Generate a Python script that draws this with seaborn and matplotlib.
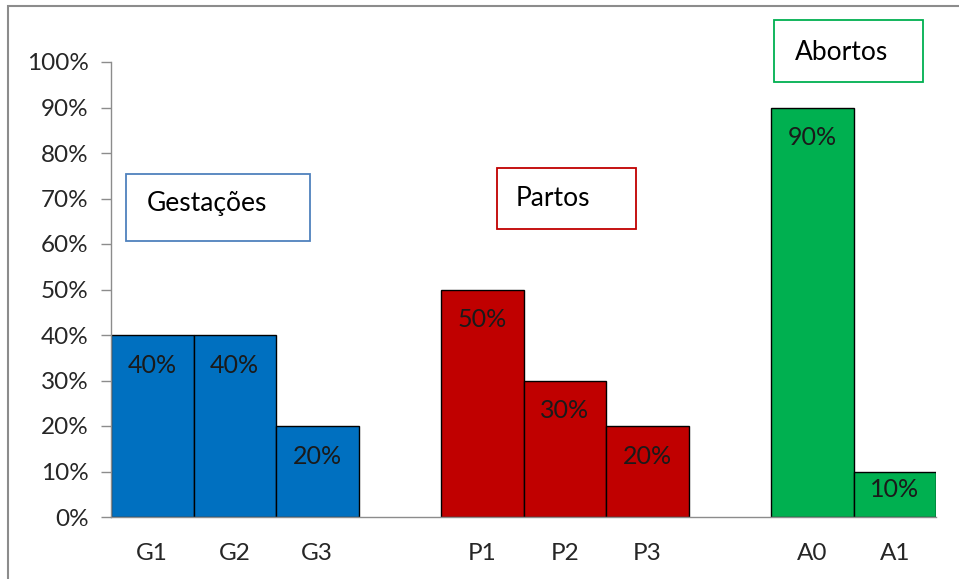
import pandas as pd
import matplotlib.pyplot as plt
import seaborn as sns
from matplotlib.patches import Rectangle

# =========================================
# DATA
# =========================================

categories = ['G1', 'G2', 'G3', 'P1', 'P2', 'P3', 'A0', 'A1']
groups = ['Gestações', 'Gestações', 'Gestações',
          'Partos', 'Partos', 'Partos',
          'Abortos', 'Abortos']
values = [0.40, 0.40, 0.20, 0.50, 0.30, 0.20, 0.90, 0.10]

# empty slots between the groups
order = ['G1', 'G2', 'G3', ' ', 'P1', 'P2', 'P3', '  ', 'A0', 'A1']

group_colors = {
    'Gestações': '#0070C0',
    'Partos': '#C00000',
    'Abortos': '#00B050'
}

box_edges = {
    'Gestações': '#4F81BD',
    'Partos': '#C00000',
    'Abortos': '#00B050'
}

data = pd.DataFrame({
    'categoria': categories,
    'grupo': groups,
    'valor': values
})

# =========================================
# PLOT
# =========================================

sns.set_style('white')
plt.rcParams['font.family'] = ['Lato', 'DejaVu Sans']

W, H = 959, 579
fig = plt.figure(figsize=(W / 100, H / 100), dpi=100)

ax_left, ax_right, ax_top, ax_bottom = 111, 936, 62, 517
ax = fig.add_axes([
    ax_left / W,
    1 - ax_bottom / H,
    (ax_right - ax_left) / W,
    (ax_bottom - ax_top) / H
])

sns.barplot(
    data=data,
    x='categoria',
    y='valor',
    hue='grupo',
    order=order,
    palette=group_colors,
    saturation=1,
    dodge=False,
    width=1.0,
    edgecolor='black',
    linewidth=1.0,
    legend=False,
    ax=ax
)

ax.set_xlim(-0.5, len(order) - 0.5)
ax.set_ylim(0, 1)
ax.set_yticks([i / 10 for i in range(11)])
ax.set_yticklabels([f'{i * 10}%' for i in range(11)])
ax.set_xlabel('')
ax.set_ylabel('')

for side in ['top', 'right']:
    ax.spines[side].set_visible(False)
for side in ['left', 'bottom']:
    ax.spines[side].set_color('#8C8C8C')
    ax.spines[side].set_linewidth(1.0)

ax.tick_params(axis='y', length=7, width=1, color='#8C8C8C',
               labelsize=17.5, labelcolor='#262626', pad=9, left=True)
ax.tick_params(axis='x', length=0, labelsize=17.5, labelcolor='#262626', pad=19)

# value labels inside bars
for cat, val in zip(categories, values):
    xpos = order.index(cat)
    ypos = max(val - 0.066, val * 0.6)
    ax.text(xpos, ypos, f'{int(round(val * 100))}%',
            ha='center', va='center', fontsize=18, color='#1a1a1a')

# =========================================
# GROUP BOXES
# =========================================

def add_box(x0, y0, x1, y1, text, tx, ty, edge):
    fig.add_artist(Rectangle(
        (x0 / W, 1 - y1 / H), (x1 - x0) / W, (y1 - y0) / H,
        transform=fig.transFigure, facecolor='white',
        edgecolor=edge, linewidth=1.3
    ))
    fig.text(tx / W, 1 - ty / H, text, ha='left', va='center',
             fontsize=19, color='black')

add_box(126, 174, 310, 241, 'Gestações', 147, 203, box_edges['Gestações'])
add_box(497, 168, 636, 229, 'Partos', 516, 198, box_edges['Partos'])
add_box(774, 20, 923, 82, 'Abortos', 795, 52, box_edges['Abortos'])

# outer frame
fig.add_artist(Rectangle(
    (8 / W, -0.02), 1.1, 1 - 6 / H + 0.02,
    transform=fig.transFigure, facecolor='none',
    edgecolor='#8C8C8C', linewidth=1.5
))

fig.savefig('out.png', dpi=100)
